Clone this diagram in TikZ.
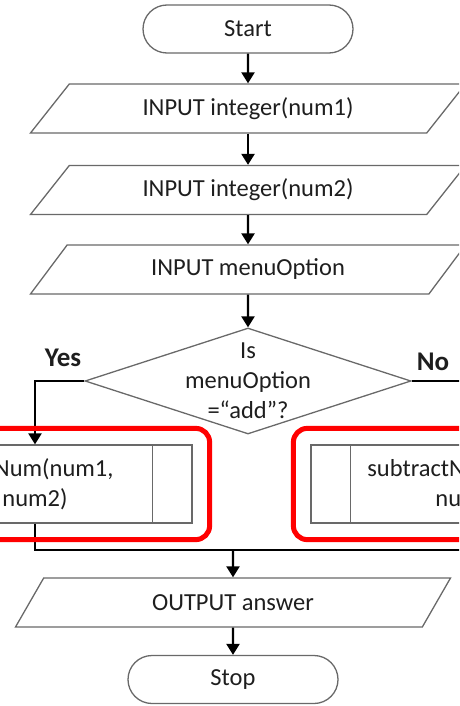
\documentclass[tikz,border=0pt]{standalone}
\usepackage{fontspec}
\setmainfont{Carlito}
\usepackage{tikz}
\usetikzlibrary{shapes.geometric, shapes.misc, arrows.meta, fit}

\definecolor{outline}{RGB}{105,105,105}
\definecolor{ink}{RGB}{30,30,30}

\begin{document}
\begin{tikzpicture}[x=1pt, y=-1pt,
    box/.style={draw=outline, line width=1.3pt, text=ink, font=\fontsize{24.5}{30}\selectfont, inner sep=0pt},
    terminal/.style={box, rounded rectangle, minimum width=210pt, minimum height=48pt},
    io/.style={box, trapezium, trapezium left angle=29.7, trapezium right angle=150.3,
        trapezium stretches body, minimum width=435pt, minimum height=49pt},
    decision/.style={box, diamond, minimum width=326pt, minimum height=106pt},
    subroutine/.style={box, rectangle, minimum width=314pt, minimum height=78pt, align=center},
    flow/.style={line width=2.3pt, -{Triangle[length=11pt,width=13pt]}},
    link/.style={line width=2pt},
    tag/.style={text=ink, font=\bfseries\fontsize{27}{30}\selectfont},
    highlight/.style={draw=red, line width=5pt, rounded corners=14pt, inner xsep=17pt, inner ysep=16pt}
]
        % Frame of the cut-out
        \useasboundingbox (0,0) rectangle (459,706);
        \clip (0,0) rectangle (459,706);

        % Main column
        \node[terminal] (start) at (248,29) {Start};
        \node[io] (in1) at (248,108.5) {INPUT integer(num1)};
        \node[io] (in2) at (248,190) {INPUT integer(num2)};
        \node[io] (in3) at (248,269.5) {INPUT menuOption};

        % The question
        \node[decision] (dec) at (248,381) {};
        \node[box, draw=none, align=center] (decq) at (dec) {Is\\menuOption\\=“add”?};
        \node[tag] (yes) at (63,358) {Yes};
        \node[tag] (no) at (433,362) {No};

        % The two subroutines
        \node[subroutine] (addbox) at (35,484) {addNum(num1,\\num2)};
        \node[subroutine] (subbox) at (468,484) {subtractNum(num1,\\num2)};
        \draw[outline, line width=1.3pt] ([xshift=40pt]addbox.north west) -- ([xshift=40pt]addbox.south west);
        \draw[outline, line width=1.3pt] ([xshift=-40pt]addbox.north east) -- ([xshift=-40pt]addbox.south east);
        \draw[outline, line width=1.3pt] ([xshift=40pt]subbox.north west) -- ([xshift=40pt]subbox.south west);
        \draw[outline, line width=1.3pt] ([xshift=-40pt]subbox.north east) -- ([xshift=-40pt]subbox.south east);

        % Output and end
        \node[io] (out) at (233,602.5) {OUTPUT answer};
        \node[terminal] (stop) at (233,679.5) {Stop};

        % Arrows
        \draw[flow] (start.south) -- (in1.north);
        \draw[flow] (in1.south) -- (in2.north);
        \draw[flow] (in2.south) -- (in3.north);
        \draw[flow] (in3.south) -- (dec.north);
        \draw[flow] (dec.west) -| (addbox.north);
        \draw[flow] (dec.east) -| (subbox.north);

        % Joining the branches
        \coordinate (join) at (233,550);
        \draw[link] (addbox.south) |- (join);
        \draw[link] (subbox.south) |- (join);
        \draw[flow] (join) -- (out.north);
        \draw[flow] (out.south) -- (stop.north);

        % Red marks round the subroutines
        \node[highlight, fit=(addbox)] (addmark) {};
        \node[highlight, fit=(subbox)] (submark) {};
\end{tikzpicture}
\end{document}
